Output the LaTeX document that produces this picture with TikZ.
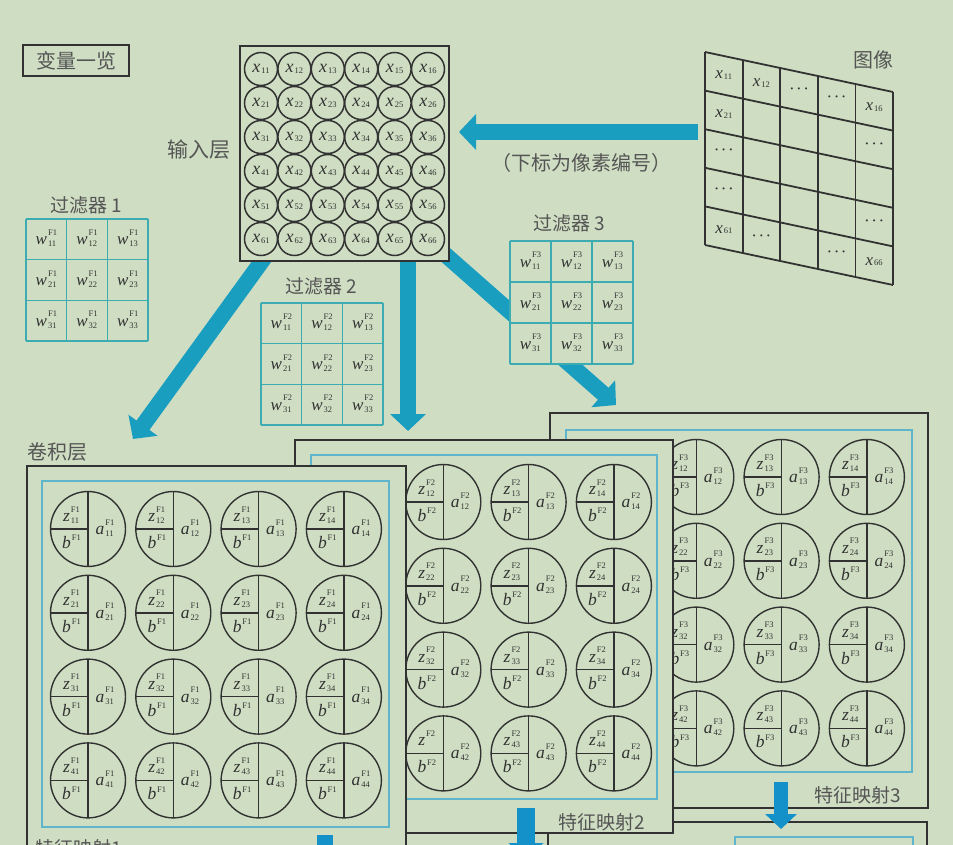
\documentclass[tikz,border=0pt]{standalone}
\usepackage{fontspec}
\setmainfont{Liberation Serif}
\newfontfamily\cjk{Noto Sans CJK SC}
\usetikzlibrary{arrows.meta}
\definecolor{bg}{RGB}{207,222,195}
\definecolor{arrowc}{RGB}{25,158,192}
\definecolor{arrowd}{RGB}{20,145,200}
\definecolor{filt}{RGB}{60,172,178}
\definecolor{innerc}{RGB}{95,182,202}
\definecolor{ink}{RGB}{50,50,50}
\definecolor{lbl}{RGB}{85,85,85}
\newcommand\tinyf{\fontsize{8.5}{10}\selectfont}
\newcommand\supsub[2]{{\tinyf\setbox0\hbox{#1}\setbox2\hbox{#2}%
  \ifdim\wd0>\wd2 \dimen0=\wd0 \else \dimen0=\wd2 \fi
  \makebox[\dimen0][l]{\rlap{\raisebox{9.5pt}{#1}}\raisebox{-2pt}{#2}}}}
\newcommand\zv[3]{\textit{#1}\kern1pt\supsub{#2}{#3}}
\newcommand\bv[2]{\textit{#1}\kern0.8pt\raisebox{7.5pt}{\tinyf #2}}
\newcommand\xv[1]{\textit{x}\kern1pt\raisebox{-0.5pt}{\tinyf #1}}
\newcommand\dts{·\kern1.5pt·\kern1.5pt·}
\tikzset{
  lab/.style={font=\cjk\fontsize{20}{24}\selectfont, text=lbl, inner sep=0pt},
  blockarrow/.style={draw=arrowc, line width=16pt, -{Triangle[length=17pt,width=35pt]}},
  smallarrow/.style={draw=arrowd, line width=15pt, -{Triangle[length=15pt,width=31pt]}},
  incirc/.style={circle, draw=ink, line width=1.5pt, minimum size=33pt, inner sep=0pt, font=\fontsize{18}{20}\selectfont, text=ink},
  gridtxt/.style={inner sep=0pt, font=\fontsize{17}{19}\selectfont, text=ink},
  wtxt/.style={inner sep=0pt, font=\fontsize{17}{19}\selectfont, text=ink},
  ntxt/.style={inner sep=0pt, font=\fontsize{17.5}{19}\selectfont, text=ink},
  outerbox/.style={draw=ink, line width=1.8pt, fill=bg},
  innerbox/.style={draw=innerc, line width=2.4pt},
}
% feature map: #1 x of first column, #2 y of first row, #3 filter index, #4 first visible column
\newcommand\fmapcircles[4]{%
  \foreach \r in {1,...,4}{\foreach \c in {#4,...,4}{%
    \pgfmathsetmacro\cx{#1+85.3*(\c-1)}%
    \pgfmathsetmacro\cy{#2+83.8*(\r-1)}%
    \ifnum\numexpr#3*100+\r*10+\c\relax=242 \def\zsub{}\else\edef\zsub{\r\c}\fi
    \begin{scope}[shift={(\cx,\cy)}]
      \draw[ink, line width=1.4pt] (0,0) circle (37.5);
      \draw[ink, line width=1.4pt] (0,-37.5) -- (0,37.5) (-37.5,0) -- (0,0);
      \node[ntxt] (z#3-\r\c) at (-16.5,-14) {\zv{z}{F#3}{\zsub}};
      \node[ntxt] (b#3-\r\c) at (-16.5,13) {\bv{b}{F#3}};
      \node[ntxt] (a#3-\r\c) at (17,-1) {\zv{a}{F#3}{\r\c}};
    \end{scope}
  }}%
}
% filter: #1 left, #2 top, #3 index, #4 cell size
\newcommand\filterbox[4]{%
  \fill[bg] (#1,#2) rectangle ++(3*#4,3*#4);
  \foreach \i in {0,...,3}{%
    \draw[filt, line width=1.5pt] ({#1+\i*#4},#2) -- ++(0,3*#4);
    \draw[filt, line width=1.5pt] (#1,{#2+\i*#4}) -- ++(3*#4,0);
  }%
  \foreach \r in {1,2,3}{\foreach \c in {1,2,3}{%
    \node[wtxt] (w#3-\r\c) at ({#1+#4*(\c-0.5)},{#2+#4*(\r-0.5)-1}) {\zv{w}{F#3}{\r\c}};
  }}%
}
\begin{document}
\begin{tikzpicture}[x=1pt,y=-1pt]
\useasboundingbox (0,0) rectangle (953,845);
\clip (0,0) rectangle (953,845);
\fill[bg] (0,0) rectangle (953,845);

% ---------- arrows from image / input layer ----------
\coordinate (imgA) at (698,132);
\coordinate (inA) at (459,132);
\coordinate (a1s) at (270,250);
\coordinate (a1e) at (133,439);
\coordinate (a2s) at (408,250);
\coordinate (a2e) at (408,431);
\coordinate (a3s) at (440,250);
\coordinate (a3e) at (616,405);
\draw[blockarrow] (imgA) -- (inA);
\draw[blockarrow] (a1s) -- (a1e);
\draw[blockarrow] (a2s) -- (a2e);
\draw[blockarrow] (a3s) -- (a3e);

% ---------- variable list ----------
\node[draw=ink, line width=1.6pt, minimum width=106pt, minimum height=31pt, lab] (vars) at (76,60.5) {变量一览};

% ---------- input layer ----------
\draw[outerbox] (240,46) rectangle (449,261);
\node[lab, font=\cjk\fontsize{21}{24}\selectfont] (inlab) at (198.5,150) {输入层};
\foreach \r in {1,...,6}{\foreach \c in {1,...,6}{%
  \node[incirc] (x\r\c) at ({261+33.4*(\c-1)},{69+34*(\r-1)}) {\xv{\r\c}};
}}

% ---------- image grid ----------
\foreach \c in {0,...,5}{%
  \draw[ink, line width=1.8pt] ({705+37.6*\c},{52+8*\c}) -- ({705+37.6*\c},{245+8*\c});
}
\foreach \r in {0,...,5}{%
  \draw[ink, line width=1.8pt] (705,{52+38.6*\r}) -- (893,{92+38.6*\r});
}
\node[lab] (imglab) at (873,60) {图像};
\foreach \c/\r/\t in {0/0/\xv{11},1/0/\xv{12},2/0/\dts,3/0/\dts,4/0/\xv{16},
  0/1/\xv{21},4/1/\dts,0/2/\dts,0/3/\dts,4/3/\dts,
  0/4/\xv{61},1/4/\dts,3/4/\dts,4/4/\xv{66}}{%
  \node[gridtxt] (g\c\r) at ({705+37.6*(\c+0.5)},{52+38.6*(\r+0.5)+8*(\c+0.5)}) {\t};
}
\node[lab, font=\cjk\fontsize{20}{24}\selectfont] (note) at (581,163) {（下标为像素编号）};

% ---------- filters ----------
\node[lab, font=\cjk\fontsize{19}{22}\selectfont] (f1lab) at (86,205) {过滤器 1};
\filterbox{26}{219}{1}{40.7}
\node[lab, font=\cjk\fontsize{19}{22}\selectfont] (f2lab) at (321,286) {过滤器 2};
\filterbox{261}{303}{2}{40.7}
\node[lab, font=\cjk\fontsize{19}{22}\selectfont] (f3lab) at (569,223) {过滤器 3};
\filterbox{510}{241}{3}{41}

% ---------- next layer boxes (cut off at bottom) ----------
\draw[ink, line width=1.8pt] (673,822) -- (927,822) -- (927,860);
\draw[innerc, line width=2.4pt] (735,860) -- (735,837) -- (913,837) -- (913,860);

% ---------- feature map 3 ----------
\draw[outerbox] (550,413) rectangle (928,808);
\draw[innerbox] (566,430) rectangle (912,772);
\fmapcircles{611}{477}{3}{2}
\node[lab, font=\cjk\fontsize{19}{22}\selectfont] (fm3lab) at (858,795) {特征映射3};
\coordinate (d3s) at (781,782);
\coordinate (d3e) at (781,829);
\draw[smallarrow, line width=14pt] (d3s) -- (d3e);

% ---------- feature map 2 ----------
\draw[outerbox] (295,440) rectangle (673,833);
\draw[innerbox] (311,455) rectangle (657,799);
\fmapcircles{358}{502}{2}{2}
\node[lab, font=\cjk\fontsize{19}{22}\selectfont] (fm2lab) at (602,822) {特征映射2};
\draw[ink, line width=1.8pt] (548,833) -- (548,860);
\coordinate (d2s) at (526,808);
\coordinate (d2e) at (526,860);
\draw[smallarrow, line width=18pt, -{Triangle[length=17pt,width=34pt]}] (d2s) -- (d2e);

% ---------- feature map 1 ----------
\node[lab] (convlab) at (57.5,452) {卷积层};
\draw[outerbox] (27,466) rectangle (406,900);
\draw[innerbox] (42,481) rectangle (389,827);
\fmapcircles{88}{529}{1}{1}
\node[lab, font=\cjk\fontsize{19}{22}\selectfont, anchor=west] (fm1lab) at (35,848) {特征映射1};
\coordinate (d1s) at (325,835);
\coordinate (d1e) at (325,885);
\draw[smallarrow, line width=16pt] (d1s) -- (d1e);
\end{tikzpicture}
\end{document}
